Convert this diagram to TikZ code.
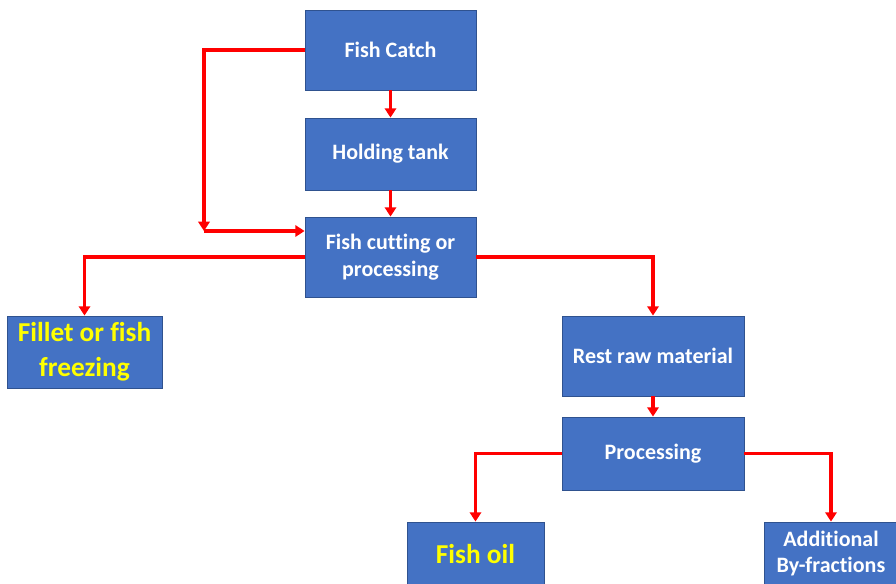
\documentclass[tikz,border=0pt]{standalone}
\usepackage{xcolor}
\usepackage{fontspec}
\setmainfont{Carlito}[Ligatures=NoCommon]
\usepackage{tikz}
\usetikzlibrary{arrows.meta}

\definecolor{boxblue}{HTML}{4472C4}
\definecolor{boxedge}{HTML}{2F528F}
\definecolor{flowred}{HTML}{FF0000}
\definecolor{outyellow}{HTML}{FFFF00}

\tikzset{
  stage/.style={rectangle, fill=boxblue, draw=boxedge, line width=0.6pt, align=center,
    text=white, font=\fontsize{16.5}{20}\selectfont\bfseries, inner sep=0pt},
  product/.style={stage, text=outyellow, font=\fontsize{20.5}{26}\selectfont\bfseries},
  flow/.style={draw=flowred, line width=2.3pt, -{Triangle[width=8.5pt,length=7pt]}}
}

\begin{document}
\begin{tikzpicture}[x=0.75pt, y=-0.75pt]
    \useasboundingbox (0,0) rectangle (896,583);
    \clip (0,0) rectangle (896,583);
    % main line
    \node[stage, minimum width=128.25pt, minimum height=60pt] (catch) at (390.5,50) {Fish Catch};
    \node[stage, minimum width=128.25pt, minimum height=54pt] (tank) at (390.5,154) {Holding tank};
    \node[stage, minimum width=128.25pt, minimum height=60pt] (cutting) at (390.5,257) {Fish cutting or\\processing};
    % outputs of cutting
    \node[product, minimum width=116.25pt, minimum height=54pt] (fillet) at (84.5,352) {Fillet or fish\\freezing};
    \node[stage, minimum width=136.5pt, minimum height=60pt] (rest) at (653,356) {Rest raw material};
    \node[stage, minimum width=136.5pt, minimum height=54.75pt] (proc) at (653,453.5) {Processing};
    % end products
    \node[product, minimum width=102.75pt, minimum height=47.25pt] (oil) at (475.5,553.5) {Fish oil};
    \node[stage, minimum width=100.5pt, minimum height=47.25pt] (extra) at (831,553.5) {Additional\\By-fractions};
    % bypass of the holding tank
    \coordinate (bend) at (204,231);
    \draw[flow] (catch.west) -| (bend);
    \draw[flow] (bend) -- (bend -| cutting.west);
    % connectors
    \draw[flow] (catch) -- (tank);
    \draw[flow] (tank) -- (cutting);
    \draw[flow] (cutting.west) -| (fillet.north);
    \draw[flow] (cutting.east) -| (rest.north);
    \draw[flow] (rest) -- (proc);
    \draw[flow] (proc.west) -| (oil.north);
    \draw[flow] (proc.east) -| (extra.north);
\end{tikzpicture}
\end{document}
